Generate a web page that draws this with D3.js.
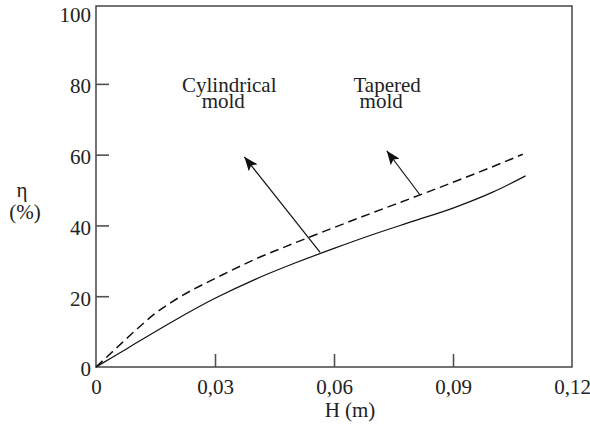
<!DOCTYPE html>
<html><head><meta charset="utf-8">
<script src="https://cdn.jsdelivr.net/npm/d3@7"></script>
<style>
body{margin:0;background:#fff;}
text{font-family:"Liberation Serif","Times New Roman","DejaVu Serif",serif;fill:#222;}
</style></head>
<body>
<svg id="c" width="590" height="430"></svg>
<script>
// ---- data ----
const xTicks = [0, 0.03, 0.06, 0.09, 0.12];
const yTicks = [0, 20, 40, 60, 80, 100];
const cylH   = [0, 0.005, 0.01, 0.02, 0.03, 0.04, 0.05, 0.06, 0.07, 0.08, 0.09, 0.1, 0.1083];
const cylEta = [0, 3.3, 6.7, 13.3, 19.4, 24.7, 29.3, 33.5, 37.5, 41.2, 44.9, 49.4, 54.0];
const tapH   = [0, 0.005, 0.01, 0.015, 0.02, 0.025, 0.03, 0.04, 0.05, 0.06, 0.07, 0.08, 0.09, 0.1, 0.1076];
const tapEta = [0, 5.2, 10.4, 15.2, 19.0, 22.2, 25.0, 30.4, 35.0, 39.4, 43.7, 47.9, 52.2, 56.6, 60.1];
const labels = ["Cylindrical\nmold", "Tapered\nmold"];
const labelPos = [[0.0336, 77.7], [0.0734, 77.7]];
const arrowTail = [[0.0565, 32.4], [0.0817, 48.6]];
const arrowTip  = [[0.0374, 59.4], [0.0733, 61.1]];

const svg = d3.select("#c");
const x = d3.scaleLinear().domain([0, 0.12]).range([96, 572]);
const y = d3.scaleLinear().domain([0, 102]).range([367, 6]);
const frameColor = "#505050";
const serif = "'Liberation Serif','Times New Roman','DejaVu Serif',serif";

// arrow marker
svg.append("defs").append("marker")
  .attr("id","ah").attr("viewBox","0 0 14 11").attr("refX",14).attr("refY",5.5)
  .attr("markerWidth",14).attr("markerHeight",11).attr("markerUnits","userSpaceOnUse")
  .attr("orient","auto")
  .append("path").attr("d","M0,0 L14,5.5 L0,11 L3,5.5 Z").attr("fill","#111");

// frame
svg.append("rect").attr("x",x(0)).attr("y",y(102)).attr("width",x(0.12)-x(0))
  .attr("height",y(0)-y(102)).attr("fill","none").attr("stroke",frameColor).attr("stroke-width",1.6);

const fmt = d => d === 0 ? "0" : d.toFixed(2).replace(".", ",");
const gx = svg.append("g").attr("transform",`translate(0,${y(0)})`)
  .call(d3.axisBottom(x).tickValues(xTicks).tickFormat(fmt).tickSize(-13).tickSizeOuter(0));
gx.attr("font-family", serif);
gx.select(".domain").remove();
gx.selectAll(".tick line").attr("stroke",frameColor).attr("stroke-width",1.6)
  .filter(d => d === 0 || d === 0.12).remove();
gx.selectAll(".tick text").attr("y",27).attr("dy",0).attr("font-size",21).attr("fill","#222");

const gy = svg.append("g").attr("transform",`translate(${x(0)},0)`)
  .call(d3.axisLeft(y).tickValues(yTicks).tickSize(-13).tickSizeOuter(0));
gy.attr("font-family", serif);
gy.select(".domain").remove();
gy.selectAll(".tick line").attr("stroke",frameColor).attr("stroke-width",1.6)
  .filter(d => d === 0 || d === 100).remove();
gy.selectAll(".tick text").attr("x",-5).attr("dy","0.42em").attr("font-size",21).attr("fill","#222");

// curves
const line = d3.line().x(d => x(d[0])).y(d => y(d[1])).curve(d3.curveMonotoneX);
svg.append("path").datum(cylH.map((h,i)=>[h,cylEta[i]])).attr("d",line)
  .attr("fill","none").attr("stroke","#111").attr("stroke-width",1.2);
svg.append("path").datum(tapH.map((h,i)=>[h,tapEta[i]])).attr("d",line)
  .attr("fill","none").attr("stroke","#111").attr("stroke-width",1.5).attr("stroke-dasharray","9,5");

// arrows
arrowTail.forEach((t,i) => {
  svg.append("line").attr("x1",x(t[0])).attr("y1",y(t[1]))
    .attr("x2",x(arrowTip[i][0])).attr("y2",y(arrowTip[i][1]))
    .attr("stroke","#111").attr("stroke-width",1.2).attr("marker-end","url(#ah)");
});

// labels
labels.forEach((l,i) => {
  const parts = l.split("\n");
  const t = svg.append("text").attr("text-anchor","middle").attr("font-size",21);
  parts.forEach((p,j) => {
    t.append("tspan").attr("x", x(labelPos[i][0]) + (j ? -6 : 0))
      .attr("y", y(labelPos[i][1]) + j*16).text(p);
  });
});

// axis titles
svg.append("text").attr("x",350).attr("y",417).attr("text-anchor","middle").attr("font-size",21).text("H (m)");
svg.append("text").attr("x",22).attr("y",197).attr("text-anchor","middle").attr("font-size",21).text("η");
svg.append("text").attr("x",25).attr("y",219).attr("text-anchor","middle").attr("font-size",21).text("(%)");
</script>
</body></html>
